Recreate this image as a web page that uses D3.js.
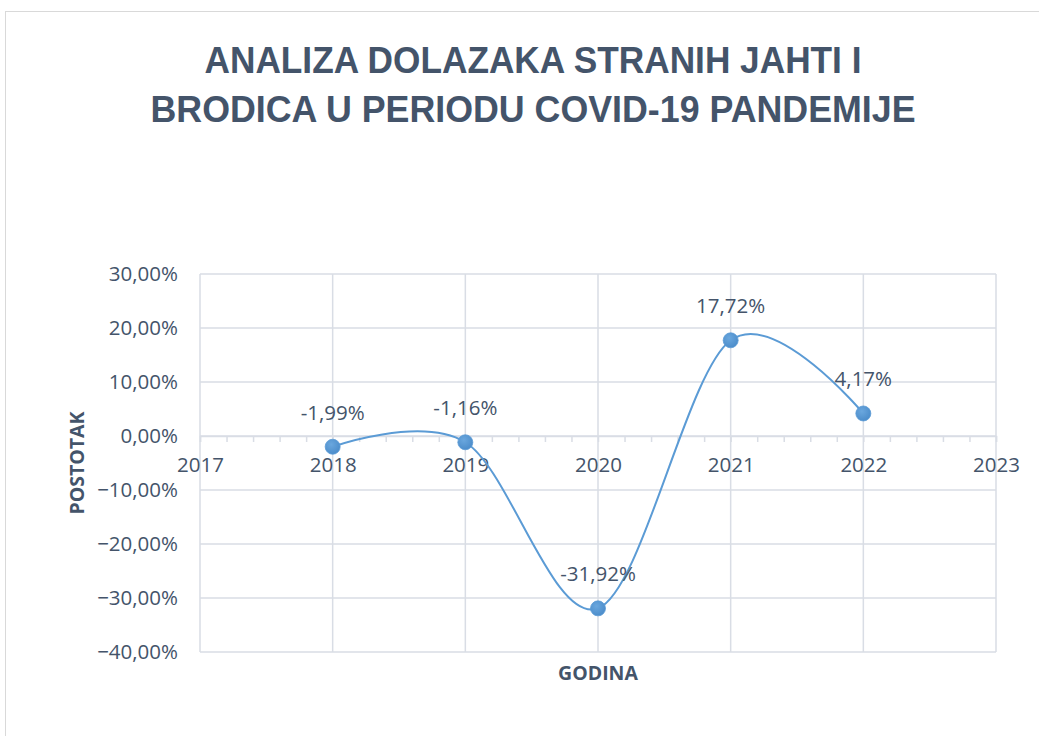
<!DOCTYPE html>
<html><head><meta charset="utf-8">
<script src="https://cdn.jsdelivr.net/npm/d3@7"></script>
<style>
html,body{margin:0;padding:0;background:#fff;}
svg{display:block;}
</style></head>
<body>
<svg id="c" width="1039" height="736"></svg>
<script>
const years = [2018, 2019, 2020, 2021, 2022];
const values = [-1.99, -1.16, -31.92, 17.72, 4.17];
const labels = ["-1,99%", "-1,16%", "-31,92%", "17,72%", "4,17%"];
const xTicks = [2017, 2018, 2019, 2020, 2021, 2022, 2023];
const yTicks = [30, 20, 10, 0, -10, -20, -30, -40];
const titleLines = ["ANALIZA DOLAZAKA STRANIH JAHTI I", "BRODICA U PERIODU COVID-19 PANDEMIJE"];
const xTitle = "GODINA";
const yTitle = "POSTOTAK";

const txt = "#44546a";
const grid = "#d9dde5";
const lineCol = "#5b9bd5";
const font = "'Open Sans', 'Liberation Sans', sans-serif";

const svg = d3.select("#c");
svg.append("rect").attr("x",5.5).attr("y",11.5).attr("width",1100).attr("height",800)
  .attr("fill","#fff").attr("stroke","#d9d9d9").attr("stroke-width",1);

const x = d3.scaleLinear().domain([2017, 2023]).range([200, 996]);
const y = d3.scaleLinear().domain([-40, 30]).range([652, 274]);

// title
const titleWidths = [657, 765];
svg.append("g").selectAll("text").data(titleLines).join("text")
  .attr("x", 533).attr("y", (d,i)=>73 + i*49)
  .attr("text-anchor","middle")
  .attr("font-family","'Liberation Sans', sans-serif")
  .attr("font-weight","bold").attr("font-size",37).attr("fill",txt)
  .attr("textLength",(d,i)=>titleWidths[i]).attr("lengthAdjust","spacingAndGlyphs")
  .text(d=>d);

// horizontal gridlines
svg.append("g").selectAll("line").data(yTicks).join("line")
  .attr("x1", x.range()[0]).attr("x2", x.range()[1])
  .attr("y1", d=>y(d)).attr("y2", d=>y(d))
  .attr("stroke", grid).attr("stroke-width",1.5);
// vertical gridlines
svg.append("g").selectAll("line").data(xTicks).join("line")
  .attr("x1", d=>x(d)).attr("x2", d=>x(d))
  .attr("y1", y.range()[1]).attr("y2", y.range()[0])
  .attr("stroke", grid).attr("stroke-width",1.5);

// y axis labels
const yAxis = d3.axisLeft(y).tickValues(yTicks).tickSize(0).tickPadding(22)
  .tickFormat(d => d3.format(".2f")(d).replace(".", ",") + "%");
const gy = svg.append("g").attr("transform",`translate(${x.range()[0]},0)`).call(yAxis);
gy.select(".domain").remove();
gy.selectAll("text").attr("font-family",font).attr("font-size",20.5).attr("fill",txt);

// x axis at 0 with minor ticks
const minor = d3.range(0, 31).map(i => 2017 + i*0.2);
const xAxis = d3.axisBottom(x).tickValues(minor).tickSize(6).tickFormat("");
const gx = svg.append("g").attr("transform",`translate(0,${y(0)})`).call(xAxis);
gx.select(".domain").attr("stroke", grid).attr("stroke-width",1.5);
gx.selectAll(".tick line").attr("stroke", grid).attr("stroke-width",1.5);
const xLab = d3.axisBottom(x).tickValues(xTicks).tickSize(0).tickPadding(21).tickFormat(d3.format("d"));
const gx2 = svg.append("g").attr("transform",`translate(0,${y(0)})`).call(xLab);
gx2.select(".domain").remove();
gx2.selectAll("text").attr("font-family",font).attr("font-size",20.5).attr("fill",txt);

// axis titles
svg.append("text").attr("x", 598).attr("y", 680).attr("text-anchor","middle")
  .attr("font-family",font).attr("font-weight","bold").attr("font-size",19.5).attr("fill",txt).text(xTitle);
svg.append("text").attr("transform",`translate(84,${y(-5)}) rotate(-90)`).attr("text-anchor","middle")
  .attr("font-family",font).attr("font-weight","bold").attr("font-size",19.5).attr("fill",txt).text(yTitle);

// line
const data = years.map((d,i)=>({x:d, v:values[i], l:labels[i]}));
const line = d3.line().x(d=>x(d.x)).y(d=>y(d.v)).curve(d3.curveCardinal.tension(0));
svg.append("path").datum(data).attr("d", line).attr("fill","none")
  .attr("stroke", lineCol).attr("stroke-width",2);

// markers
const defs = svg.append("defs");
const rg = defs.append("radialGradient").attr("id","mg").attr("cx","40%").attr("cy","35%").attr("r","70%");
rg.append("stop").attr("offset","0%").attr("stop-color","#6aa7de");
rg.append("stop").attr("offset","100%").attr("stop-color","#4a8bc9");
svg.append("g").selectAll("circle").data(data).join("circle")
  .attr("cx", d=>x(d.x)).attr("cy", d=>y(d.v)).attr("r",7.5)
  .attr("fill","url(#mg)").attr("stroke","#5b9bd5").attr("stroke-width",0.8);

// data labels
svg.append("g").selectAll("text").data(data).join("text")
  .attr("x", d=>x(d.x)).attr("y", d=>y(d.v) - 27)
  .attr("text-anchor","middle")
  .attr("font-family",font).attr("font-size",20.5).attr("fill",txt)
  .text(d=>d.l);
</script>
</body></html>
